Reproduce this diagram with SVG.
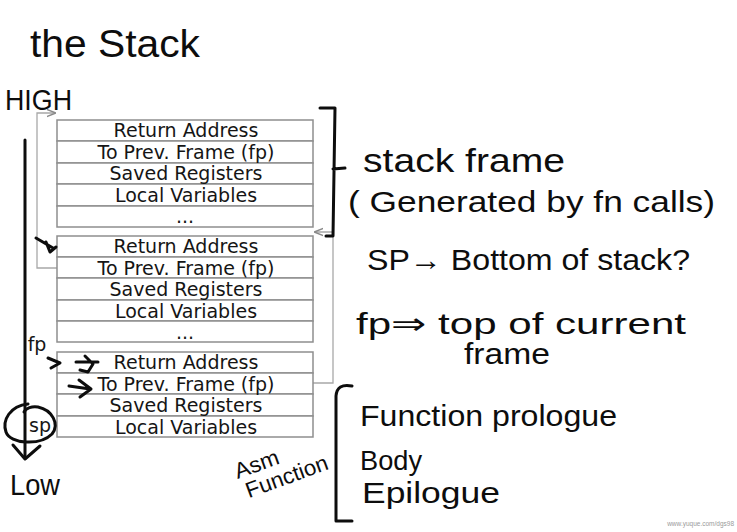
<svg xmlns="http://www.w3.org/2000/svg" width="737" height="532" viewBox="0 0 737 532">
<defs>
<style>
.cell{fill:#fff;stroke:#8e8e8e;stroke-width:1.5}
.lbl{font-family:"DejaVu Sans",sans-serif;font-size:19px;fill:#151515;text-anchor:middle}
.hand{font-family:"Liberation Sans","DejaVu Sans",sans-serif;fill:#0d0d0d}
.ink{fill:none;stroke:#0d0d0d;stroke-width:3;stroke-linecap:round;stroke-linejoin:round}
.conn{fill:none;stroke:#a8a8a8;stroke-width:1.3}
</style>
<marker id="ga" viewBox="0 0 10 10" refX="9" refY="5" markerWidth="7" markerHeight="7" orient="auto">
<path d="M0,1 L10,5 L0,9" fill="none" stroke="#8a8a8a" stroke-width="1.5"/>
</marker>
</defs>
<rect width="737" height="532" fill="#fff"/>

<g id="title"><text class="hand" x="30" y="57" font-size="38" textLength="170" lengthAdjust="spacingAndGlyphs">the Stack</text></g>
<g id="high"><text class="hand" x="5" y="110" font-size="30" textLength="67" lengthAdjust="spacingAndGlyphs">HIGH</text></g>
<g id="low"><text class="hand" x="10" y="495" font-size="30" textLength="50" lengthAdjust="spacingAndGlyphs">Low</text></g>

<g id="connectors">
<path class="conn" d="M57,268 L37,268 L37,113 L55,113" marker-end="url(#ga)"/>
<path class="conn" d="M313,383 L333,383 L333,232 L315,232" marker-end="url(#ga)"/>
<path class="ink" d="M25,140 L25,458"/>
<path class="ink" d="M13,445 L25,459 L40,446"/>
</g>

<g id="frame1">
<rect class="cell" x="57" y="120" width="256" height="21"/>
<rect class="cell" x="57" y="141" width="256" height="22"/>
<rect class="cell" x="57" y="163" width="256" height="21"/>
<rect class="cell" x="57" y="184" width="256" height="22"/>
<rect class="cell" x="57" y="206" width="256" height="21"/>
<text class="lbl" x="186" y="137">Return Address</text>
<text class="lbl" x="186" y="159">To Prev. Frame (fp)</text>
<text class="lbl" x="186" y="180">Saved Registers</text>
<text class="lbl" x="186" y="202">Local Variables</text>
<text class="lbl" x="185" y="223">...</text>
</g>

<g id="frame2">
<rect class="cell" x="57" y="236" width="256" height="21"/>
<rect class="cell" x="57" y="257" width="256" height="21"/>
<rect class="cell" x="57" y="278" width="256" height="22"/>
<rect class="cell" x="57" y="300" width="256" height="21"/>
<rect class="cell" x="57" y="321" width="256" height="21"/>
<text class="lbl" x="186" y="253">Return Address</text>
<text class="lbl" x="186" y="275">To Prev. Frame (fp)</text>
<text class="lbl" x="186" y="296">Saved Registers</text>
<text class="lbl" x="186" y="318">Local Variables</text>
<text class="lbl" x="185" y="339">...</text>
</g>

<g id="frame3">
<rect class="cell" x="57" y="352" width="256" height="21"/>
<rect class="cell" x="57" y="373" width="256" height="21"/>
<rect class="cell" x="57" y="394" width="256" height="22"/>
<rect class="cell" x="57" y="416" width="256" height="21"/>
<text class="lbl" x="186" y="369">Return Address</text>
<text class="lbl" x="186" y="391">To Prev. Frame (fp)</text>
<text class="lbl" x="186" y="412">Saved Registers</text>
<text class="lbl" x="186" y="434">Local Variables</text>
</g>

<g id="pointers">
<path class="ink" stroke-width="2.5" d="M36,238 L53,248 M46,242 L50,252 L56,247"/>
<path class="ink" stroke-width="2.5" d="M48,358 L60,363 L51,368 M76,362 L98,362 M85,356 L93,364 L88,372 L80,370"/>
<path class="ink" stroke-width="2.5" d="M69,386 L90,389 M79,380 L91,389 L80,397"/>
</g>

<g id="fp-label"><text class="lbl" x="37" y="351" font-size="17">fp</text></g>
<g id="sp-label">
<path class="ink" stroke-width="2.2" d="M28,404 C10,406 2,420 6,432 C10,444 40,446 52,434 C60,424 52,410 38,407 C32,406 26,408 24,412"/>
<text class="lbl" x="40" y="432" font-size="19">sp</text>
</g>

<g id="bracket-frame">
<path class="ink" d="M320,108 L335,108 L333,236 L326,236 M333,169 L345,168"/>
<text class="hand" x="363" y="172" font-size="34" textLength="202" lengthAdjust="spacingAndGlyphs">stack frame</text>
<text class="hand" x="348" y="212" font-size="30" textLength="367" lengthAdjust="spacingAndGlyphs">( Generated by fn calls)</text>
</g>

<g id="sp-note"><text class="hand" x="367" y="270" font-size="30" textLength="323" lengthAdjust="spacingAndGlyphs">SP→ Bottom of stack?</text></g>
<g id="fp-note">
<text class="hand" x="356" y="334" font-size="30" textLength="330" lengthAdjust="spacingAndGlyphs">fp⇒ top of current</text>
<text class="hand" x="464" y="364" font-size="30" textLength="86" lengthAdjust="spacingAndGlyphs">frame</text>
</g>

<g id="asm-function">
<path class="ink" d="M352,386 Q337,383 336,396 L336,521 L352,521"/>
<text class="hand" x="360" y="426" font-size="30" textLength="257" lengthAdjust="spacingAndGlyphs">Function prologue</text>
<text class="hand" x="360" y="470" font-size="28" textLength="62" lengthAdjust="spacingAndGlyphs">Body</text>
<text class="hand" x="362" y="503" font-size="30" textLength="138" lengthAdjust="spacingAndGlyphs">Epilogue</text>
<g transform="rotate(-20 262 470)">
<text class="hand" x="236" y="470" font-size="22" textLength="46" lengthAdjust="spacingAndGlyphs">Asm</text>
<text class="hand" x="240" y="492" font-size="22" textLength="86" lengthAdjust="spacingAndGlyphs">Function</text>
</g>
</g>

<g id="watermark"><text x="734" y="526" text-anchor="end" font-family="Liberation Sans,sans-serif" font-size="6.5" fill="#9a9a9a">www.yuque.com/dgs98</text></g>
</svg>
